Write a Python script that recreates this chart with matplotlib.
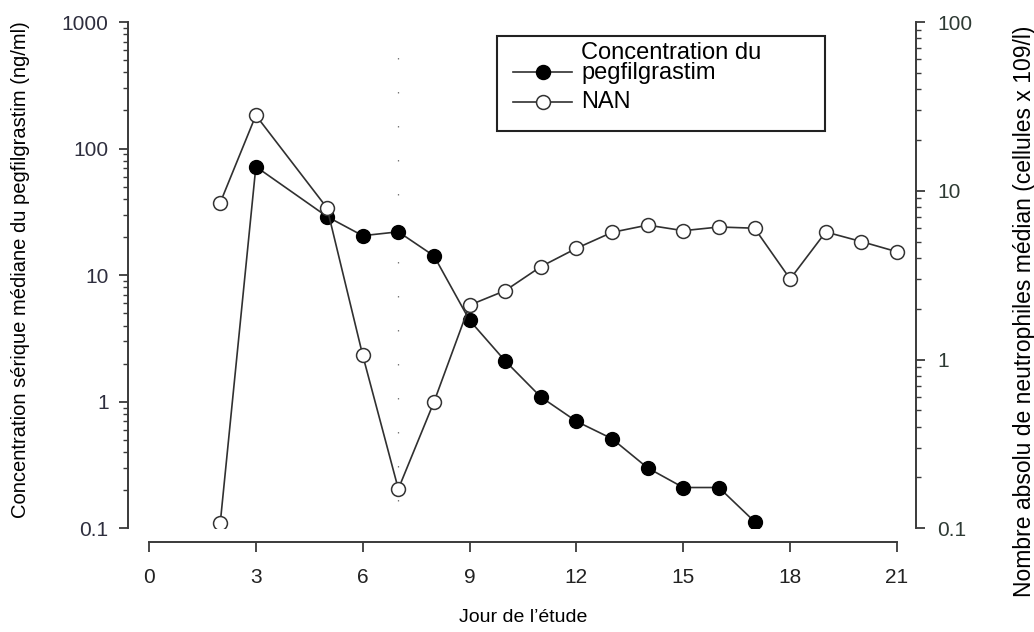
import matplotlib
matplotlib.use("Agg")
import matplotlib.pyplot as plt
from matplotlib.ticker import LogLocator, FixedLocator, FixedFormatter, NullFormatter
from matplotlib.patches import Rectangle
from matplotlib.lines import Line2D

plt.rcParams['font.family'] = ['Liberation Sans', 'DejaVu Sans']

# ---------------- data ----------------
conc_days = [2, 3, 5, 6, 7, 8, 9, 10, 11, 12, 13, 14, 15, 16, 17]
conc_vals = [0.11, 72, 29, 20.5, 22, 14.2, 4.4, 2.1, 1.09, 0.70, 0.51, 0.30, 0.21, 0.21, 0.113]

nan_days = [2, 3, 5, 6, 7, 8, 9, 10, 11, 12, 13, 14, 15, 16, 17, 18, 19, 20, 21]
nan_vals = [8.5, 28, 7.9, 1.06, 0.171, 0.56, 2.1, 2.56, 3.55, 4.56, 5.67, 6.26, 5.8, 6.1, 6.0, 3.0, 5.7, 5.0, 4.35]

x_ticks = [0, 3, 6, 9, 12, 15, 18, 21]
left_ticks = [0.1, 1, 10, 100, 1000]
left_labels = ["0.1", "1", "10", "100", "1000"]
right_ticks = [0.1, 1, 10, 100]
right_labels = ["0.1", "1", "10", "100"]

dose_day = 7
dose_span = [0.165, 780]

conc_label = "Concentration du\npegfilgrastim"
nan_label = "NAN"
xlabel = "Jour de l\u2019\u00e9tude"
ylabel_left = "Concentration s\u00e9rique m\u00e9diane du pegfilgrastim (ng/ml)"
ylabel_right = "Nombre absolu de neutrophiles m\u00e9dian (cellules x 109/l)"

# ---------------- layout ----------------
W, H = 1034, 632
PT = 72.0 / 100.0  # points per pixel
fig = plt.figure(figsize=(W / 100, H / 100), dpi=100)
axL, axR, axT, axB = 127.7, 916.0, 22.0, 528.3
ax = fig.add_axes([axL / W, 1 - axB / H, (axR - axL) / W, (axB - axT) / H])

px_per_day = (897.0 - 149.0) / 21.0
x0 = -(149.0 - axL) / px_per_day
x1 = 21 + (axR - 897.0) / px_per_day

spine_c = '#3a3a3a'
tick_c = '#2e2e3e'
line_c = '#303030'

ax.set_xlim(x0, x1)
ax.set_yscale('log')
ax.set_ylim(0.1, 1000)

ax2 = ax.twinx()
ax2.set_yscale('log')
ax2.set_ylim(0.1, 100)
ax2.set_xlim(x0, x1)

for a in (ax, ax2):
    a.patch.set_visible(False)
    a.spines['top'].set_visible(False)
    for s in a.spines.values():
        s.set_color(spine_c)
        s.set_linewidth(1.4)

ax.spines['right'].set_visible(False)
ax2.spines['left'].set_visible(False)
ax2.spines['bottom'].set_visible(False)

ax.spines['bottom'].set_position(('outward', 13.5 * PT))
ax.spines['bottom'].set_bounds(0, 21)

ax.xaxis.set_major_locator(FixedLocator(x_ticks))
ax.set_xticklabels([str(t) for t in x_ticks])
ax.tick_params(axis='x', direction='out', length=10 * PT, width=1.3, color=spine_c,
               labelsize=15, pad=16 * PT, labelcolor='#222222')

ax.yaxis.set_major_locator(FixedLocator(left_ticks))
ax.yaxis.set_major_formatter(FixedFormatter(left_labels))
ax.yaxis.set_minor_locator(LogLocator(base=10, subs=range(2, 10)))
ax.yaxis.set_minor_formatter(NullFormatter())
ax.tick_params(axis='y', which='major', direction='out', length=9 * PT, width=1.3,
               color=spine_c, labelsize=15, pad=10 * PT, labelcolor=tick_c)
ax.tick_params(axis='y', which='minor', direction='out', length=5 * PT, width=1.0, color=spine_c)

ax2.yaxis.set_major_locator(FixedLocator(right_ticks))
ax2.yaxis.set_major_formatter(FixedFormatter(right_labels))
ax2.yaxis.set_minor_locator(LogLocator(base=10, subs=range(2, 10)))
ax2.yaxis.set_minor_formatter(NullFormatter())
ax2.tick_params(axis='y', which='major', direction='out', length=9 * PT, width=1.3,
                color=spine_c, labelsize=15, pad=12 * PT, labelcolor='#2e3a34')
ax2.tick_params(axis='y', which='minor', direction='out', length=5 * PT, width=1.0, color=spine_c)

# dose line (dotted)
ax.plot([dose_day, dose_day], dose_span, color='#777777', lw=0.9,
        linestyle=(0, (1.2, 26)), zorder=1)

# concentration series
ax.plot(conc_days, conc_vals, color=line_c, lw=1.2, zorder=2)
ax.plot(conc_days[1:], conc_vals[1:], linestyle='none', marker='o', ms=10,
        mfc='black', mec='black', mew=1, zorder=3)
ax.plot(conc_days[:1], conc_vals[:1], linestyle='none', marker='o', ms=10,
        mfc='white', mec='#333333', mew=1.1, zorder=3)

# NAN series
ax2.plot(nan_days, nan_vals, color=line_c, lw=1.2, marker='o', ms=10,
         mfc='white', mec='#333333', mew=1.1, zorder=3)

# labels
ax.set_ylabel(ylabel_left, fontsize=14.5, color='black')
ax.yaxis.set_label_coords((30 - axL) / (axR - axL), (axB - 270) / (axB - axT))
ax2.set_ylabel(ylabel_right, fontsize=16.5, color='black')
ax2.yaxis.set_label_coords((1013 - axL) / (axR - axL), (axB - 311) / (axB - axT))
fig.text(523 / W, 1 - 618 / H, xlabel, fontsize=14, ha='center', va='center')

# legend (drawn as a boxed key in figure pixels)
def fx(px):
    return px / W

def fy(py):
    return 1 - py / H

key_rows = [
    (71.7, 63.0, conc_label, 'black', 'black'),
    (101.7, 101.7, nan_label, 'white', '#333333'),
]
for y_handle, y_text, lab, mfc, mec in key_rows:
    fig.add_artist(Line2D([fx(513), fx(572)], [fy(y_handle), fy(y_handle)],
                          transform=fig.transFigure, color=line_c, lw=1.2))
    fig.add_artist(Line2D([fx(543)], [fy(y_handle)], transform=fig.transFigure,
                          linestyle='none', marker='o', ms=10, mfc=mfc, mec=mec, mew=1.1))
    fig.text(fx(581), fy(y_text), lab, fontsize=17, ha='left', va='center',
             linespacing=0.85, color='black')
fig.patches.append(Rectangle((fx(497), fy(131)), (825 - 497) / W, (131 - 36) / H,
                             transform=fig.transFigure, fill=False, ec='#222222', lw=1.5))

fig.savefig('out.png', dpi=100)
